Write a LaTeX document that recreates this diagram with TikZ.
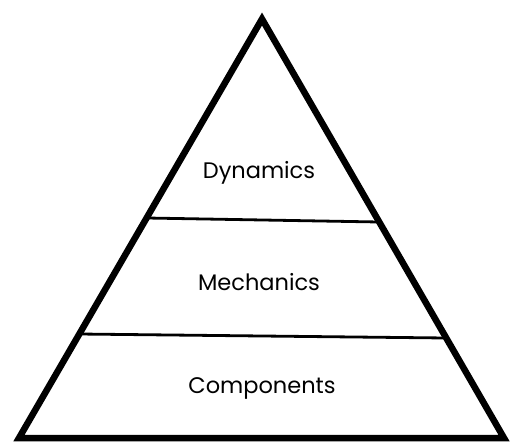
\documentclass[tikz,border=0pt]{standalone}
\usepackage{fontspec}
\setmainfont{Poppins}
\tikzset{
  layer/.style={font=\fontsize{22.5}{26}\selectfont},
  divider/.style={line width=2.8pt}
}
\begin{document}
\begin{tikzpicture}[x=1pt,y=-1pt]
		  \useasboundingbox (0,0) rectangle (512,445);
		  \coordinate (apex) at (262,19);
		  \coordinate (bl) at (19,438);
		  \coordinate (br) at (504,438);
		  \draw[line width=6.5pt,line join=miter] (apex) -- (br) -- (bl) -- cycle;
		  \coordinate (d1) at (147,218);
		  \coordinate (d2) at (379,222);
		  \coordinate (m1) at (79,334);
		  \coordinate (m2) at (446,338);
		  \draw[divider] (d1) -- (d2);
		  \draw[divider] (m1) -- (m2);
		  \node[layer] (dyn) at (259,173) {Dynamics};
		  \node[layer] (mech) at (259,282) {Mechanics};
		  \node[layer] (comp) at (262,388) {Components};
		\end{tikzpicture}
\end{document}
